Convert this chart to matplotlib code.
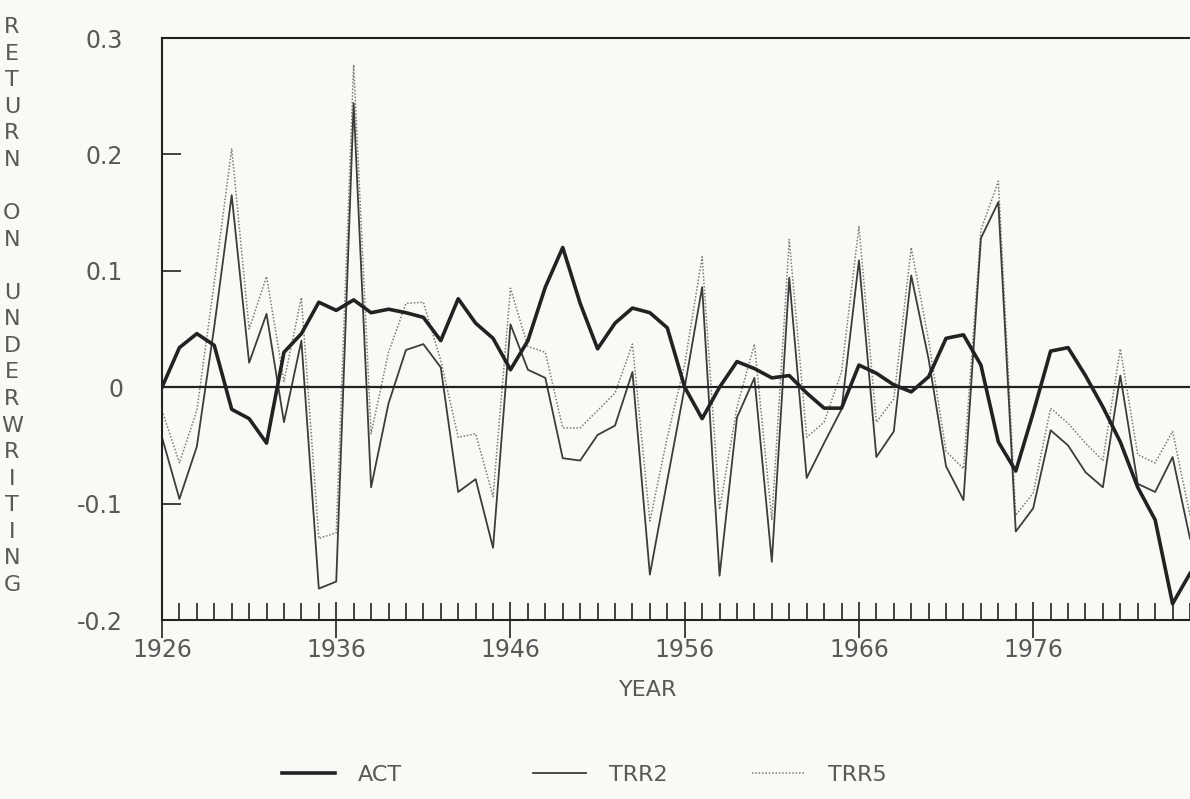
import numpy as np
import matplotlib
matplotlib.use("Agg")
import matplotlib.pyplot as plt

plt.rcParams['font.family'] = ['DejaVu Sans']

years = np.arange(1926, 1986)

act = [0.000, 0.034, 0.046, 0.036, -0.019, -0.027, -0.048, 0.030, 0.046, 0.073,
       0.066, 0.075, 0.064, 0.067, 0.064, 0.060, 0.040, 0.076, 0.055, 0.042,
       0.015, 0.040, 0.086, 0.120, 0.072, 0.033, 0.055, 0.068, 0.064, 0.051,
       0.000, -0.027, 0.000, 0.022, 0.016, 0.008, 0.010, -0.005, -0.018, -0.018,
       0.019, 0.012, 0.002, -0.004, 0.009, 0.042, 0.045, 0.019, -0.047, -0.072,
       -0.022, 0.031, 0.034, 0.010, -0.017, -0.047, -0.086, -0.114, -0.186, -0.160]

trr2 = [-0.043, -0.096, -0.051, 0.052, 0.165, 0.021, 0.063, -0.030, 0.040, -0.173,
        -0.167, 0.244, -0.086, -0.014, 0.032, 0.037, 0.017, -0.090, -0.079, -0.138,
        0.054, 0.015, 0.008, -0.061, -0.063, -0.041, -0.033, 0.013, -0.161, -0.080,
        0.000, 0.086, -0.162, -0.026, 0.008, -0.150, 0.094, -0.078, -0.048, -0.019,
        0.109, -0.060, -0.038, 0.096, 0.024, -0.068, -0.097, 0.128, 0.159, -0.124,
        -0.104, -0.037, -0.050, -0.073, -0.086, 0.010, -0.083, -0.090, -0.060, -0.130]

trr5 = [-0.020, -0.065, -0.020, 0.090, 0.205, 0.050, 0.095, 0.005, 0.077, -0.130,
        -0.125, 0.277, -0.040, 0.030, 0.072, 0.073, 0.023, -0.043, -0.040, -0.094,
        0.085, 0.035, 0.030, -0.035, -0.035, -0.020, -0.005, 0.037, -0.115, -0.043,
        0.020, 0.112, -0.105, -0.017, 0.037, -0.114, 0.127, -0.043, -0.030, 0.013,
        0.138, -0.030, -0.010, 0.120, 0.040, -0.055, -0.070, 0.135, 0.177, -0.110,
        -0.091, -0.018, -0.031, -0.048, -0.063, 0.033, -0.058, -0.065, -0.038, -0.110]

xticks = [1926, 1936, 1946, 1956, 1966, 1976]
yticks = [-0.2, -0.1, 0, 0.1, 0.2, 0.3]
ytick_labels = ["-0.2", "-0.1", "0", "0.1", "0.2", "0.3"]

bg = '#f9f9f5'
txt = '#595959'
fig = plt.figure(figsize=(11.9, 7.99), dpi=100, facecolor=bg)
ax = fig.add_axes([162/1190, 1 - 620/799, 1 - 162/1190, (620 - 38)/799])
ax.set_facecolor(bg)

l5, = ax.plot(years, trr5, color='#7a7a7a', lw=1.1, ls=(0, (1, 1.2)), label='TRR5')
l2, = ax.plot(years, trr2, color='#3c3c3c', lw=1.3, label='TRR2')
l1, = ax.plot(years, act, color='#222222', lw=2.6, label='ACT')
ax.axhline(0, color='#222222', lw=1.6)

ax.set_xlim(1926, 1926 + (1190 - 161.7)/17.47)
ax.set_ylim(-0.2, 0.3)

for s in ['left', 'top', 'bottom']:
    ax.spines[s].set_linewidth(1.5)
    ax.spines[s].set_color('#222222')
ax.spines['right'].set_visible(False)

ax.set_xticks(xticks)
ax.set_xticks(years, minor=True)
ax.set_yticks(yticks)
ax.set_yticklabels(ytick_labels)
ax.tick_params(axis='x', which='major', direction='inout', length=26, width=1.2,
               pad=0, labelsize=17, colors='#222222')
ax.tick_params(axis='x', which='minor', direction='in', length=12, width=1.2,
               colors='#222222')
ax.tick_params(axis='y', which='major', direction='in', length=14, width=1.2,
               pad=28, labelsize=17, colors='#222222')
for lab in ax.get_xticklabels() + ax.get_yticklabels():
    lab.set_color(txt)

fig.text(648/1190, 1 - 690/799, 'YEAR', ha='center', va='center',
         fontsize=16, color=txt)

ylabel = '\n'.join(list('RETURN') + [''] + list('ON') + [''] + list('UNDERWRITING'))
fig.text(12/1190, 1 - 306/799, ylabel, ha='center', va='center',
         fontsize=16, color=txt, linespacing=1.41)

# legend entries placed one by one
for handle, name, x0 in [(l1, 'ACT', 282), (l2, 'TRR2', 533), (l5, 'TRR5', 752)]:
    fig.legend([handle], [name], loc='center left',
               bbox_to_anchor=(x0/1190, 1 - 775/799), frameon=False, fontsize=16,
               handlelength=2.4, handletextpad=1.0, borderpad=0,
               borderaxespad=0, labelcolor=txt)

fig.savefig('out.png', dpi=100, facecolor=bg)
